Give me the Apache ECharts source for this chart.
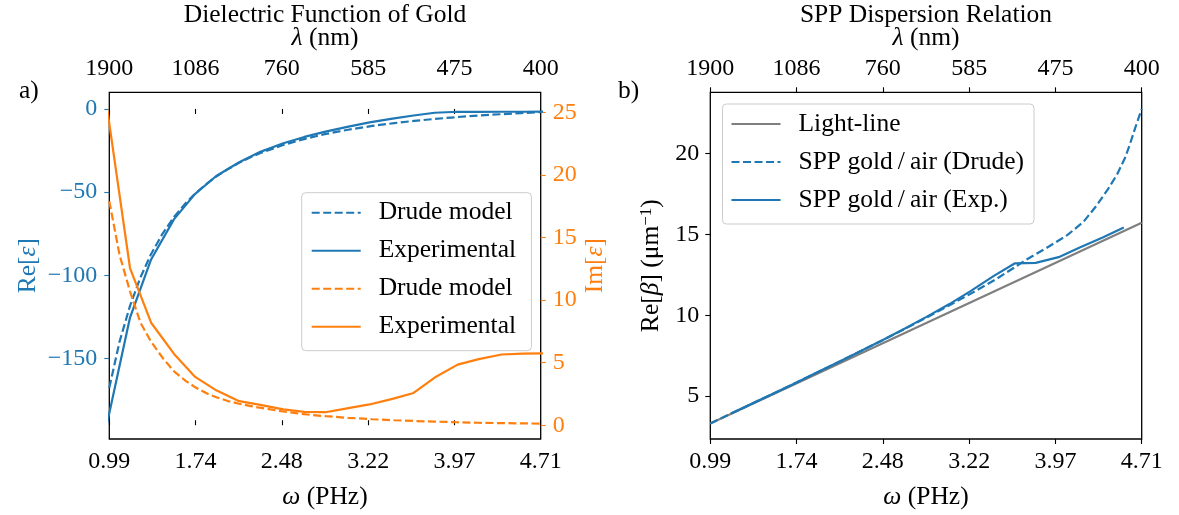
<!DOCTYPE html>
<html>
<head>
<meta charset="utf-8">
<script src="https://cdn.jsdelivr.net/npm/echarts@6/dist/echarts.min.js"></script>
<style>
  html, body { margin: 0; padding: 0; background: #fff; }
  #chart { width: 1179px; height: 515px; }
</style>
</head>
<body>
<div id="chart"></div>
<script>
// Angular frequency ticks (PHz) shared by both panels, with matching wavelength labels
const omegaTicks = [0.9914, 1.7356, 2.4798, 3.2240, 3.9682, 4.7124];
const omegaTickLabels = ['0.99', '1.74', '2.48', '3.22', '3.97', '4.71'];
const lambdaTickLabels = ['1900', '1086', '760', '585', '475', '400'];

const reTicks = [-150, -100, -50, 0];
const reTickLabels = ['\u2212150', '\u2212100', '\u221250', '0'];
const imTicks = [0, 5, 10, 15, 20, 25];
const betaTicks = [5, 10, 15, 20];

// Tabulated (experimental) permittivity of gold
const expOmega = [0.972, 1.170, 1.352, 1.550, 1.732, 1.914, 2.112, 2.294, 2.492, 2.674, 2.856,
                  3.054, 3.236, 3.434, 3.616, 3.798, 3.996, 4.178, 4.376, 4.558, 4.740];
const reEpsExp = [-189.05, -125.35, -90.43, -66.22, -51.05, -40.27, -32.01, -25.78, -20.61, -16.82, -13.65,
                  -10.66, -8.11, -5.84, -3.95, -2.28, -1.70, -1.76, -1.69, -1.70, -1.65];
const imEpsExp = [25.36, 12.56, 8.19, 5.70, 3.86, 2.79, 1.92, 1.63, 1.27, 1.07, 1.04,
                  1.37, 1.66, 2.11, 2.58, 3.81, 4.84, 5.28, 5.65, 5.72, 5.74];

// Drude model permittivity
const drudeOmega = [0.9914, 1.08, 1.17, 1.26, 1.35, 1.45, 1.55, 1.65, 1.73, 1.83, 1.91, 2.02, 2.11, 2.20,
                    2.29, 2.49, 2.67, 2.86, 3.05, 3.26, 3.45, 3.62, 3.80, 3.99, 4.17, 4.36, 4.54, 4.7124];
const reEpsDrude = [-167.5, -139.8, -118.3, -101.2, -87.4, -75.0, -64.9, -56.6, -51.0, -45.0, -40.8, -35.9, -32.4, -29.3,
                    -26.6, -21.7, -18.1, -15.0, -12.5, -10.2, -8.5, -7.2, -6.0, -4.9, -4.0, -3.2, -2.5, -1.9];
const imEpsDrude = [17.9, 13.6, 10.7, 8.2, 6.7, 5.4, 4.3, 3.55, 3.05, 2.55, 2.25, 1.92, 1.72, 1.55,
                    1.40, 1.10, 0.88, 0.72, 0.59, 0.48, 0.40, 0.34, 0.29, 0.24, 0.20, 0.17, 0.15, 0.13];

// Dispersion relation
const lightOmega = [0.9914, 4.7124];
const lightBeta = [3.307, 15.719];

const sppDrudeOmega = [0.9914, 1.17, 1.35, 1.55, 1.73, 1.91, 2.11, 2.29, 2.49, 2.67, 2.86, 3.05, 3.26,
                       3.45, 3.62, 3.72, 3.89, 4.07, 4.21, 4.32, 4.42, 4.50, 4.57, 4.61, 4.655, 4.7124];
const sppDrudeBeta = [3.31, 3.92, 4.53, 5.21, 5.83, 6.45, 7.15, 7.79, 8.50, 9.16, 9.87, 10.60, 11.42,
                      12.20, 12.98, 13.45, 14.15, 14.95, 15.77, 16.75, 17.78, 18.70, 19.75, 20.55, 21.55, 22.75];

const sppExpOmega = [1.170, 1.352, 1.550, 1.732, 1.914, 2.112, 2.294, 2.492, 2.674, 2.856,
                     3.054, 3.236, 3.434, 3.616, 3.798, 3.996, 4.178, 4.376, 4.558];
const sppExpBeta = [3.92, 4.54, 5.21, 5.83, 6.47, 7.16, 7.81, 8.52, 9.20, 9.90,
                    10.69, 11.49, 12.42, 13.20, 13.24, 13.59, 14.18, 14.81, 15.42];

const zip = (xs, ys) => xs.map((x, i) => [x, ys[i]]);
// label lookup by tick value
const labelFor = (ticks, labels) => v => {
  const i = ticks.findIndex(t => Math.abs(t - v) < 1e-6);
  return i < 0 ? '' : labels[i];
};

const FONT = 'Liberation Serif';
const FS = 24;      // tick labels
const FT = 25.5;    // titles, names, legend
const BLUE = '#1f77b4';
const ORANGE = '#ff7f0e';
const GRAY = '#7f7f7f';
const DASH = [8, 3.5];
const LW = 2.2;

const italic = { fontStyle: 'italic', fontFamily: FONT, fontSize: FT };

function bottomAxis(gridIndex) {
  return {
    type: 'value', gridIndex, position: 'bottom',
    min: omegaTicks[0], max: omegaTicks[omegaTicks.length - 1],
    name: '{i|\u03c9} (PHz)', nameLocation: 'middle', nameGap: 45,
    nameTextStyle: { fontFamily: FONT, fontSize: FT, color: '#000', rich: { i: italic } },
    axisLine: { show: false },
    axisTick: { show: true, customValues: omegaTicks, length: 5, lineStyle: { color: '#000', width: 1.1 } },
    axisLabel: { customValues: omegaTicks, formatter: labelFor(omegaTicks, omegaTickLabels),
                 fontFamily: FONT, fontSize: FS, color: '#000', margin: 11 },
    splitLine: { show: false }
  };
}
function topAxis(gridIndex) {
  return {
    type: 'value', gridIndex, position: 'top',
    min: omegaTicks[0], max: omegaTicks[omegaTicks.length - 1],
    name: '{i|\u03bb} (nm)', nameLocation: 'middle', nameGap: 32,
    nameTextStyle: { fontFamily: FONT, fontSize: FT, color: '#000', rich: { i: italic } },
    axisLine: { show: false },
    axisTick: { show: true, customValues: omegaTicks, length: 5, lineStyle: { color: '#000', width: 1.1 } },
    axisLabel: { customValues: omegaTicks, formatter: labelFor(omegaTicks, lambdaTickLabels),
                 fontFamily: FONT, fontSize: FS, color: '#000', margin: 12 },
    splitLine: { show: false }
  };
}

const legendBox = {
  orient: 'vertical',
  backgroundColor: 'rgba(255,255,255,0.8)', borderColor: '#cccccc', borderWidth: 1, borderRadius: 4,
  itemWidth: 49, itemHeight: 14, itemGap: 12,
  itemStyle: { opacity: 0, borderWidth: 0 },
  textStyle: { fontFamily: FONT, fontSize: FT, color: '#000', lineHeight: 24, padding: [0, 0, 0, 13] }
};

const textStyle = { fontFamily: FONT, fontSize: FT, fontWeight: 'normal', color: '#000' };

const option = {
  animation: false,
  backgroundColor: '#fff',
  title: [
    { text: 'Dielectric Function of Gold', left: 325, top: 2, textAlign: 'center', padding: 0, textStyle },
    { text: 'SPP Dispersion Relation', left: 926, top: 2, textAlign: 'center', padding: 0, textStyle },
    { text: 'a)', left: 19, top: 78, padding: 0, textStyle },
    { text: 'b)', left: 618, top: 78, padding: 0, textStyle }
  ],
  grid: [
    { left: 109.3, top: 92.3, width: 431.4, height: 349.6, show: true, borderColor: '#000', borderWidth: 1.3, backgroundColor: 'transparent' },
    { left: 710.3, top: 92.3, width: 431.4, height: 350, show: true, borderColor: '#000', borderWidth: 1.3, backgroundColor: 'transparent' }
  ],
  xAxis: [bottomAxis(0), topAxis(0), bottomAxis(1), topAxis(1)],
  yAxis: [
    {
      type: 'value', gridIndex: 0, position: 'left', min: -198.3, max: 10,
      name: 'Re[{i|\u03b5}]', nameLocation: 'middle', nameGap: 68, nameRotate: 90,
      nameTextStyle: { fontFamily: FONT, fontSize: FT, color: BLUE, rich: { i: Object.assign({}, italic, { color: BLUE }) } },
      axisLine: { show: false },
      axisTick: { show: true, customValues: reTicks, length: 5, lineStyle: { color: BLUE, width: 1.1 } },
      axisLabel: { customValues: reTicks, formatter: labelFor(reTicks, reTickLabels),
                   fontFamily: FONT, fontSize: FS, color: BLUE, margin: 12 },
      splitLine: { show: false }
    },
    {
      type: 'value', gridIndex: 0, position: 'right', min: -1.1, max: 26.6,
      name: 'Im[{i|\u03b5}]', nameLocation: 'middle', nameGap: 42, nameRotate: 90,
      nameTextStyle: { fontFamily: FONT, fontSize: FT, color: ORANGE, rich: { i: Object.assign({}, italic, { color: ORANGE }) } },
      axisLine: { show: false },
      axisTick: { show: true, customValues: imTicks, length: 5, lineStyle: { color: ORANGE, width: 1.1 } },
      axisLabel: { customValues: imTicks, fontFamily: FONT, fontSize: FS, color: ORANGE, margin: 12 },
      splitLine: { show: false }
    },
    {
      type: 'value', gridIndex: 1, position: 'left', min: 2.35, max: 23.78,
      name: 'Re[{i|\u03b2}] (\u03bcm{s|\u22121})', nameLocation: 'middle', nameGap: 46, nameRotate: 90,
      nameTextStyle: { fontFamily: FONT, fontSize: FT, color: '#000', lineHeight: 26,
                       rich: { i: italic, s: { fontFamily: FONT, fontSize: 17, verticalAlign: 'top', lineHeight: 26 } } },
      axisLine: { show: false },
      axisTick: { show: true, customValues: betaTicks, length: 5, lineStyle: { color: '#000', width: 1.1 } },
      axisLabel: { customValues: betaTicks, fontFamily: FONT, fontSize: FS, color: '#000', margin: 11 },
      splitLine: { show: false }
    }
  ],
  legend: [
    Object.assign({}, legendBox, {
      left: 301.7, top: 192.7, padding: [7, 9, 11, 9],
      data: ['Drude model', 'Experimental', 'Drude model ', 'Experimental ']
    }),
    Object.assign({}, legendBox, {
      left: 722.5, top: 104, padding: [7, 10, 11, 8],
      data: ['Light-line', 'SPP gold/air (Drude)', 'SPP gold/air (Exp.)'],
      formatter: n => n.replace('/', '\u2009/\u2009')
    })
  ],
  series: [
    { name: 'Drude model', type: 'line', xAxisIndex: 0, yAxisIndex: 0, data: zip(drudeOmega, reEpsDrude),
      symbol: 'none', lineStyle: { color: BLUE, width: LW, type: DASH }, itemStyle: { color: BLUE } },
    { name: 'Experimental', type: 'line', xAxisIndex: 0, yAxisIndex: 0, data: zip(expOmega, reEpsExp),
      symbol: 'none', lineStyle: { color: BLUE, width: LW }, itemStyle: { color: BLUE } },
    { name: 'Drude model ', type: 'line', xAxisIndex: 0, yAxisIndex: 1, data: zip(drudeOmega, imEpsDrude),
      symbol: 'none', lineStyle: { color: ORANGE, width: LW, type: DASH }, itemStyle: { color: ORANGE } },
    { name: 'Experimental ', type: 'line', xAxisIndex: 0, yAxisIndex: 1, data: zip(expOmega, imEpsExp),
      symbol: 'none', lineStyle: { color: ORANGE, width: LW }, itemStyle: { color: ORANGE } },

    { name: 'Light-line', type: 'line', xAxisIndex: 2, yAxisIndex: 2, data: zip(lightOmega, lightBeta),
      symbol: 'none', lineStyle: { color: GRAY, width: LW }, itemStyle: { color: GRAY } },
    { name: 'SPP gold/air (Drude)', type: 'line', xAxisIndex: 2, yAxisIndex: 2, data: zip(sppDrudeOmega, sppDrudeBeta),
      symbol: 'none', lineStyle: { color: BLUE, width: LW, type: DASH }, itemStyle: { color: BLUE } },
    { name: 'SPP gold/air (Exp.)', type: 'line', xAxisIndex: 2, yAxisIndex: 2, data: zip(sppExpOmega, sppExpBeta),
      symbol: 'none', lineStyle: { color: BLUE, width: LW }, itemStyle: { color: BLUE } }
  ]
};

const chart = echarts.init(document.getElementById('chart'), null, { renderer: 'canvas' });
chart.setOption(option);
</script>
</body>
</html>
